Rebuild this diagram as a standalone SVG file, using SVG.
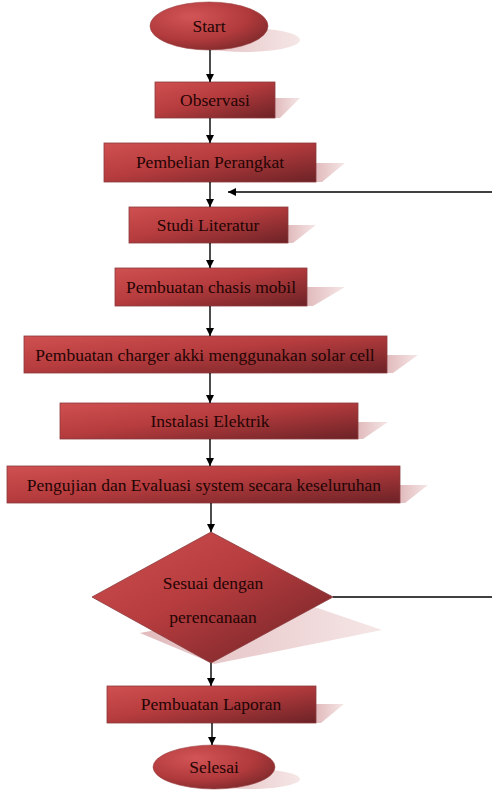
<svg xmlns="http://www.w3.org/2000/svg" width="492" height="791" viewBox="0 0 492 791" font-family="Liberation Serif, Times New Roman, serif">
<defs>
<linearGradient id="fillG" x1="0" y1="0" x2="1" y2="1">
<stop offset="0" stop-color="#d05050"/>
<stop offset="0.45" stop-color="#b63c3e"/>
<stop offset="1" stop-color="#6c2226"/>
</linearGradient>
<radialGradient id="ellG" cx="0.35" cy="0.3" r="0.8">
<stop offset="0" stop-color="#d25456"/>
<stop offset="0.6" stop-color="#b13a3c"/>
<stop offset="1" stop-color="#7a282a"/>
</radialGradient>
<linearGradient id="shG" x1="0" y1="0" x2="1" y2="0">
<stop offset="0" stop-color="#dcaeb0"/>
<stop offset="1" stop-color="#f4e2e2"/>
</linearGradient>
<marker id="ah" viewBox="0 0 10 10" refX="10" refY="5" markerWidth="8" markerHeight="8" markerUnits="userSpaceOnUse" orient="auto">
<path d="M0,0 L10,5 L0,10 Z" fill="#000"/>
</marker>
</defs>
<style>
.box{fill:url(#fillG);stroke:#8a3a3c;stroke-width:0.8}
.ell{fill:url(#ellG);stroke:#9a4446;stroke-width:0.6}
.sh{fill:url(#shG);opacity:0.85}
.t{font-size:17.5px;fill:#240404;text-anchor:middle}
.c{stroke:#000;stroke-width:1.4;fill:none;marker-end:url(#ah)}
.l{stroke:#000;stroke-width:1.4;fill:none}
</style>
<rect width="492" height="791" fill="#fff"/>

<g id="start">
<ellipse class="sh" cx="245" cy="40" rx="55" ry="12"/>
<ellipse class="ell" cx="209" cy="26" rx="59" ry="24"/>
<text class="t" x="209" y="32" font-family="Liberation Serif, serif">Start</text>
</g>

<g id="observasi">
<polygon class="sh" points="275,98 300,98 280,118 275,118"/>
<rect class="box" x="155" y="82" width="120" height="36"/>
<text class="t" x="215" y="106" font-family="Liberation Serif, serif">Observasi</text>
</g>

<g id="pembelian">
<polygon class="sh" points="316,163 345,163 322,182 316,182"/>
<rect class="box" x="104" y="143" width="212" height="39"/>
<text class="t" x="210" y="168" font-family="Liberation Serif, serif">Pembelian Perangkat</text>
</g>

<g id="studi">
<polygon class="sh" points="288,225 316,225 293,243 288,243"/>
<rect class="box" x="129" y="207" width="159" height="36"/>
<text class="t" x="208" y="231" font-family="Liberation Serif, serif">Studi Literatur</text>
</g>

<g id="chasis">
<polygon class="sh" points="307,287 345,287 313,306 307,306"/>
<rect class="box" x="115" y="268" width="192" height="38"/>
<text class="t" x="211" y="293" font-family="Liberation Serif, serif">Pembuatan chasis mobil</text>
</g>

<g id="charger">
<polygon class="sh" points="387,355 418,355 393,373 387,373"/>
<rect class="box" x="24" y="336" width="363" height="37"/>
<text class="t" x="205" y="361" font-family="Liberation Serif, serif">Pembuatan charger akki menggunakan solar cell</text>
</g>

<g id="instalasi">
<polygon class="sh" points="358,422 388,422 363,439 358,439"/>
<rect class="box" x="60" y="403" width="298" height="36"/>
<text class="t" x="210" y="427" font-family="Liberation Serif, serif">Instalasi Elektrik</text>
</g>

<g id="pengujian">
<polygon class="sh" points="400,485 428,485 405,503 400,503"/>
<rect class="box" x="7" y="466" width="393" height="37"/>
<text class="t" x="204" y="491" font-family="Liberation Serif, serif">Pengujian dan Evaluasi system secara keseluruhan</text>
</g>

<g id="sesuai">
<polygon class="sh" points="140,633 300,602 382,630 214,664"/>
<polygon class="box" points="211,532 333,597 211,663 92,597"/>
<text class="t" x="213" y="589" font-family="Liberation Serif, serif">Sesuai dengan</text>
<text class="t" x="213" y="623" font-family="Liberation Serif, serif">perencanaan</text>
</g>

<g id="laporan">
<polygon class="sh" points="316,704 344,704 321,723 316,723"/>
<rect class="box" x="107" y="686" width="209" height="37"/>
<text class="t" x="211" y="710" font-family="Liberation Serif, serif">Pembuatan Laporan</text>
</g>

<g id="selesai">
<ellipse class="sh" cx="250" cy="779" rx="50" ry="10"/>
<ellipse class="ell" cx="214" cy="767" rx="61" ry="22"/>
<text class="t" x="214" y="773" font-family="Liberation Serif, serif">Selesai</text>
</g>

<g id="connectors">
<line class="c" x1="210" y1="50" x2="210" y2="82"/>
<line class="c" x1="210" y1="118" x2="210" y2="143"/>
<line class="c" x1="210" y1="182" x2="210" y2="207"/>
<line class="c" x1="210" y1="243" x2="210" y2="268"/>
<line class="c" x1="210" y1="306" x2="210" y2="336"/>
<line class="c" x1="210" y1="373" x2="210" y2="403"/>
<line class="c" x1="210" y1="439" x2="210" y2="466"/>
<line class="c" x1="211" y1="503" x2="211" y2="532"/>
<line class="c" x1="211" y1="663" x2="211" y2="686"/>
<line class="c" x1="212" y1="723" x2="212" y2="745"/>
<line class="c" x1="492" y1="192" x2="228" y2="192"/>
<line class="l" x1="333" y1="597" x2="492" y2="597"/>
</g>
</svg>
